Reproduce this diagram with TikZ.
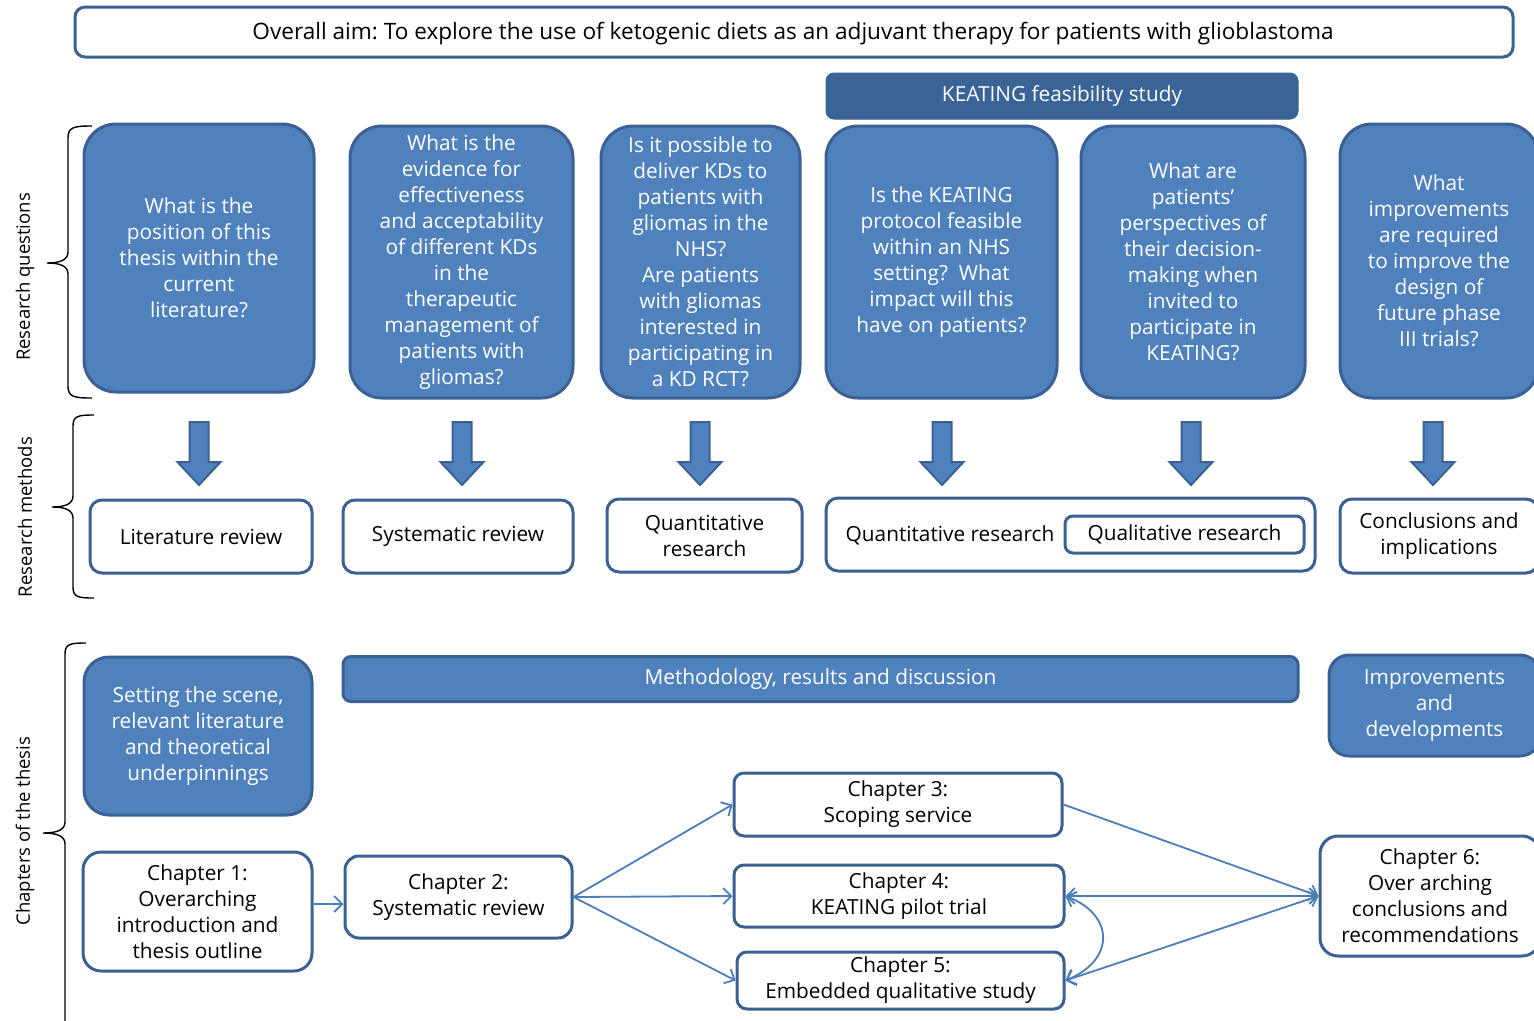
\documentclass[tikz,border=0pt]{standalone}
\usepackage{fontspec}
\setmainfont{Open Sans}
\usetikzlibrary{arrows.meta}
\frenchspacing
\definecolor{fillb}{HTML}{4F81BD}
\definecolor{bdr}{HTML}{3A6094}
\definecolor{hdr}{HTML}{3A6496}
\definecolor{conn}{HTML}{4A7EBB}
\newcommand{\mainf}{\fontsize{20.8}{26}\selectfont}
\newcommand{\aimf}{\fontsize{22.6}{27}\selectfont}
\newcommand{\sidef}{\fontsize{18.5}{22}\selectfont}
\tikzset{
  qbox/.style={draw=bdr, fill=fillb, line width=3pt, rounded corners=32pt, text=white, align=center, font=\mainf, inner sep=0pt},
  bbox/.style={draw=bdr, fill=fillb, line width=3pt, rounded corners=#1, text=white, align=center, font=\mainf, inner sep=0pt},
  wbox/.style={draw=bdr, fill=white, line width=3pt, rounded corners=#1, align=center, font=\mainf, inner sep=0pt},
  sidelabel/.style={rotate=90, font=\sidef},
  brace/.style={draw=black, line width=1.4pt},
  conn/.style={draw=conn, line width=1.8pt, -{Straight Barb[length=8pt,width=16pt]}},
  barrow/.pic={\filldraw[fill=fillb, draw=bdr, line width=2pt, line join=miter] (-9.5,0) -- (9.5,0) -- (9.5,40) -- (21.5,40) -- (0,63) -- (-21.5,40) -- (-9.5,40) -- cycle;}
}
\begin{document}
\begin{tikzpicture}[x=1pt,y=-1pt]
\useasboundingbox (0,0) rectangle (1534,1020);
% overall aim
\node[wbox=10pt, minimum width=1438, minimum height=50] (aim) at (794,32) {};
\node[font=\aimf, inner sep=0pt] (aimt) at (793,34) {Overall aim: To explore the use of ketogenic diets as an adjuvant therapy for patients with glioblastoma};
% KEATING header
\node[bbox=8pt, fill=hdr, draw=hdr, line width=1pt, minimum width=472, minimum height=46] (keat) at (1062,96) {KEATING feasibility study};
% research questions
\node[qbox, minimum width=230, minimum height=268] (q1) at (199,258) {What is the\\position of this\\thesis within the\\current\\literature?};
\node[qbox, minimum width=223, minimum height=272] (q2) at (461.5,262) {What is the\\evidence for\\effectiveness\\and acceptability\\of different KDs\\in the\\therapeutic\\management of\\patients with\\gliomas?};
\node[qbox, minimum width=199, minimum height=272] (q3) at (700.5,262) {Is it possible to\\deliver KDs to\\patients with\\gliomas in the\\NHS?\\Are patients\\with gliomas\\interested in\\participating in\\a KD RCT?};
\node[qbox, minimum width=231, minimum height=272] (q4) at (941.5,262) {Is the KEATING\\protocol feasible\\within an NHS\\setting?~ What\\impact will this\\have on patients?};
\node[qbox, minimum width=224, minimum height=272] (q5) at (1193,262) {What are\\patients’\\perspectives of\\their decision-\\making when\\invited to\\participate in\\KEATING?};
\node[qbox, minimum width=198, minimum height=274] (q6) at (1439,261) {What\\improvements\\are required\\to improve the\\design of\\future phase\\III trials?};
% block arrows
\pic at (199,422) {barrow};
\pic at (462,422) {barrow};
\pic at (700,422) {barrow};
\pic at (942,422) {barrow};
\pic at (1191,422) {barrow};
\pic at (1433,422) {barrow};
% research methods
\node[wbox=12pt, minimum width=222, minimum height=73] (m1) at (201,536.5) {Literature review};
\node[wbox=12pt, minimum width=230, minimum height=73] (m2) at (458,536.5) {Systematic review};
\node[wbox=12pt, minimum width=195, minimum height=73] (m3) at (704.5,535.5) {Quantitative\\research};
\node[wbox=12pt, minimum width=489, minimum height=73] (m4) at (1070.5,534.5) {};
\node[font=\mainf, inner sep=0pt] (m4t) at (950,535.5) {Quantitative research};
\node[wbox=8pt, minimum width=239, minimum height=37] (m5) at (1184.5,534.5) {Qualitative research};
\node[wbox=12pt, minimum width=198, minimum height=74] (m6) at (1439,536) {Conclusions and\\implications};
% chapters
\node[bbox=25pt, minimum width=228, minimum height=158] (s1) at (198,736) {Setting the scene,\\relevant literature\\and theoretical\\underpinnings};
\node[bbox=8pt, minimum width=955, minimum height=45] (mrd) at (820.5,679) {Methodology, results and discussion};
\node[bbox=20pt, minimum width=211, minimum height=101] (imp) at (1434.5,705.5) {Improvements\\and\\developments};
\node[wbox=18pt, minimum width=229, minimum height=119] (c1) at (197.5,911.5) {Chapter 1:\\Overarching\\introduction and\\thesis outline};
\node[wbox=14pt, minimum width=227, minimum height=82] (c2) at (458.5,897) {Chapter 2:\\Systematic review};
\node[wbox=10pt, minimum width=328, minimum height=63] (c3) at (898,804.5) {Chapter 3:\\Scoping service};
\node[wbox=10pt, minimum width=330, minimum height=62] (c4) at (899,896) {Chapter 4:\\KEATING pilot trial};
\node[wbox=10pt, minimum width=327, minimum height=57] (c5) at (900.5,980.5) {Chapter 5:\\Embedded qualitative study};
\node[wbox=18pt, minimum width=220, minimum height=120] (c6) at (1430,896) {Chapter 6:\\Over arching\\conclusions and\\recommendations};
% connectors
\draw[conn] ([yshift=7.5pt]c1.east) -- ([yshift=7.5pt]c1.east -| c2.west);
\draw[conn] (c2.east) -- (c3.west);
\draw[conn] (c2.east) -- (c4.west);
\draw[conn] (c2.east) -- (c5.west);
\draw[conn] (c3.east) -- (c6.west);
\draw[conn, {Straight Barb[length=8pt,width=16pt]}-{Straight Barb[length=8pt,width=16pt]}] (c4.east) -- (c6.west);
\draw[conn, {Straight Barb[length=8pt,width=16pt]}-{Straight Barb[length=8pt,width=16pt]}] (c5.east) -- (c6.west);
\draw[conn, {Straight Barb[length=8pt,width=16pt]}-{Straight Barb[length=8pt,width=16pt]}] (c4.east) .. controls (1115,915) and (1115,960) .. (c5.east);
% braces
\draw[brace] (92,126) .. controls (74,126) and (68,127) .. (68,138) -- (68,252) .. controls (68,260) and (60,263) .. (47,263) .. controls (60,263) and (68,266) .. (68,274) -- (68,386) .. controls (68,397) and (74,398) .. (92,398);
\draw[brace] (94,415) .. controls (78,415) and (73,416) .. (73,426) -- (73,496) .. controls (73,504) and (65,507) .. (52,507) .. controls (65,507) and (73,510) .. (73,518) -- (73,587) .. controls (73,597) and (78,598) .. (94,598);
\draw[brace] (86,643) .. controls (70,643) and (65,644) .. (65,654) -- (65,822) .. controls (65,830) and (57,833) .. (43,833) .. controls (57,833) and (65,836) .. (65,844) -- (65,1030);
% side labels
\node[sidelabel] (l1) at (25,277) {Research questions};
\node[sidelabel] (l2) at (25,517) {Research methods};
\node[sidelabel] (l3) at (25,831) {Chapters of the thesis};
\end{tikzpicture}
\end{document}
